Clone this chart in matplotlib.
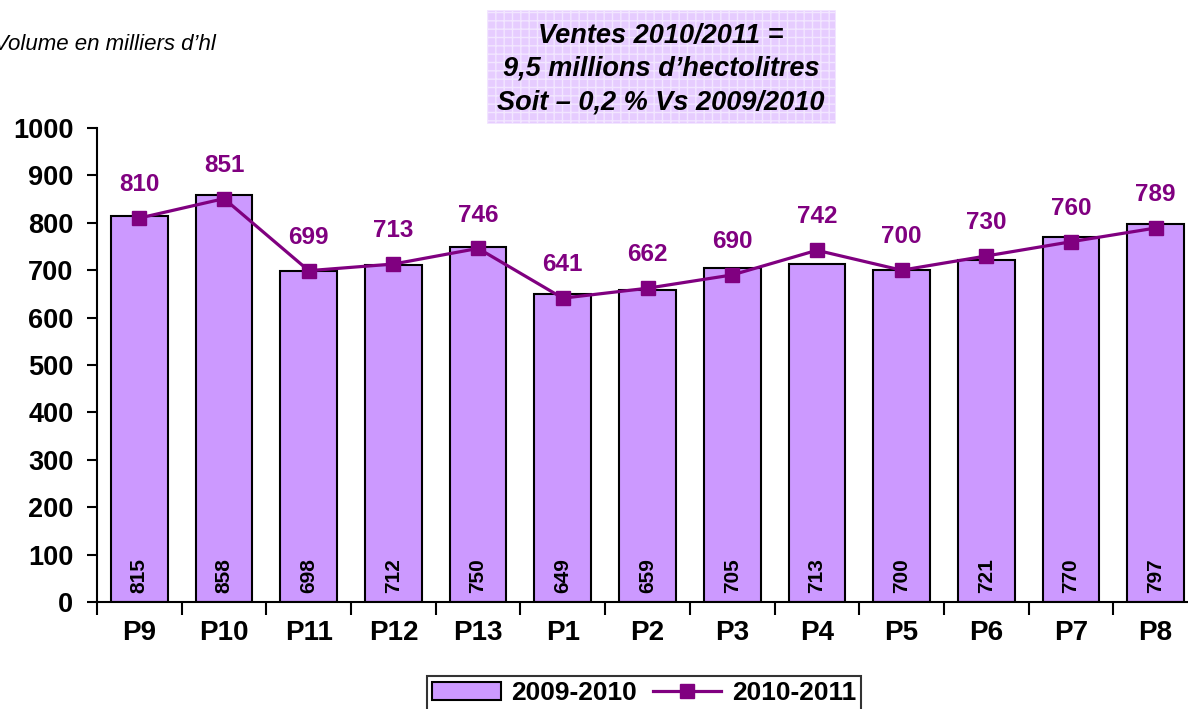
import matplotlib
matplotlib.use('Agg')
import matplotlib.pyplot as plt
from matplotlib.patches import Rectangle
import numpy as np

periods = ["P9", "P10", "P11", "P12", "P13", "P1", "P2", "P3", "P4", "P5", "P6", "P7", "P8"]
ventes_0910 = [815, 858, 698, 712, 750, 649, 659, 705, 713, 700, 721, 770, 797]
ventes_1011 = [810, 851, 699, 713, 746, 641, 662, 690, 742, 700, 730, 760, 789]

plt.rcParams['font.family'] = ['Liberation Sans', 'DejaVu Sans']

fig = plt.figure(figsize=(11.88, 7.09), dpi=100)
ax = fig.add_axes([97/1188, 107/709, 1101/1188, 474/709])

x = np.arange(len(periods))
bars = ax.bar(x, ventes_0910, width=0.67, color='#CC99FF', edgecolor='black',
              linewidth=1.5, label='2009-2010', zorder=2)
line, = ax.plot(x, ventes_1011, color='#800080', lw=2.3, marker='s', ms=10,
                label='2010-2011', zorder=3)

# valeurs dans les barres (en bas, verticales)
for xi, v in zip(x, ventes_0910):
    ax.text(xi, 19, str(v), rotation=90, ha='center', va='bottom',
            fontsize=15, fontweight='bold', color='black')

# valeurs au-dessus de la courbe
for xi, v in zip(x, ventes_1011):
    ax.annotate(str(v), (xi, v), xytext=(0, 24), textcoords='offset points',
                ha='center', va='center', fontsize=17.5, fontweight='bold',
                color='#800080')

ax.set_xlim(-0.5, len(periods) - 0.5)
ax.set_ylim(0, 1000)
ax.set_yticks(range(0, 1001, 100))
ax.set_xticks(np.arange(len(periods) + 1) - 0.5, minor=False)
ax.set_xticklabels([])
ax.set_xticks(x, minor=True)
ax.set_xticklabels(periods, minor=True)
ax.tick_params(axis='x', which='minor', length=0, pad=13, labelsize=20)
ax.tick_params(axis='x', which='major', length=9, width=1.5, direction='out')
ax.tick_params(axis='y', length=7, width=1.5, labelsize=19.5, pad=10)
for lab in ax.get_xticklabels(minor=True) + ax.get_yticklabels():
    lab.set_fontweight('bold')

ax.spines['top'].set_visible(False)
ax.spines['right'].set_visible(False)
ax.spines['left'].set_linewidth(1.5)
ax.spines['bottom'].set_linewidth(1.5)

fig.text(-6/1188, 1 - 45/709, "Volume en milliers d\u2019hl", fontsize=16,
         style='italic', ha='left', va='center')

# cadre du titre
box = Rectangle((487/1188, 1 - 123/709), 348/1188, 113/709,
                transform=fig.transFigure, facecolor='#E6CCFF',
                edgecolor='#F2E6FF', hatch='++', linewidth=0.5)
fig.patches.append(box)
titre = ["Ventes 2010/2011 =", "9,5 millions d\u2019hectolitres",
         "Soit \u2013 0,2 % Vs 2009/2010"]
for i, t in enumerate(titre):
    fig.text(661/1188, 1 - (36 + 33 * i)/709, t, fontsize=19.5, style='italic',
             fontweight='bold', ha='center', va='center')

leg = fig.legend([bars, line], ['2009-2010', '2010-2011'],
                 loc='upper center', bbox_to_anchor=(644/1188, 1 - 676/709),
                 borderaxespad=0, ncol=2, fontsize=19, frameon=True,
                 fancybox=False, edgecolor='black', handlelength=2.6,
                 columnspacing=0.6, handletextpad=0.4, borderpad=0.2)
leg.get_frame().set_linewidth(1.5)
for t in leg.get_texts():
    t.set_fontweight('bold')

fig.savefig("out.png", dpi=100)
